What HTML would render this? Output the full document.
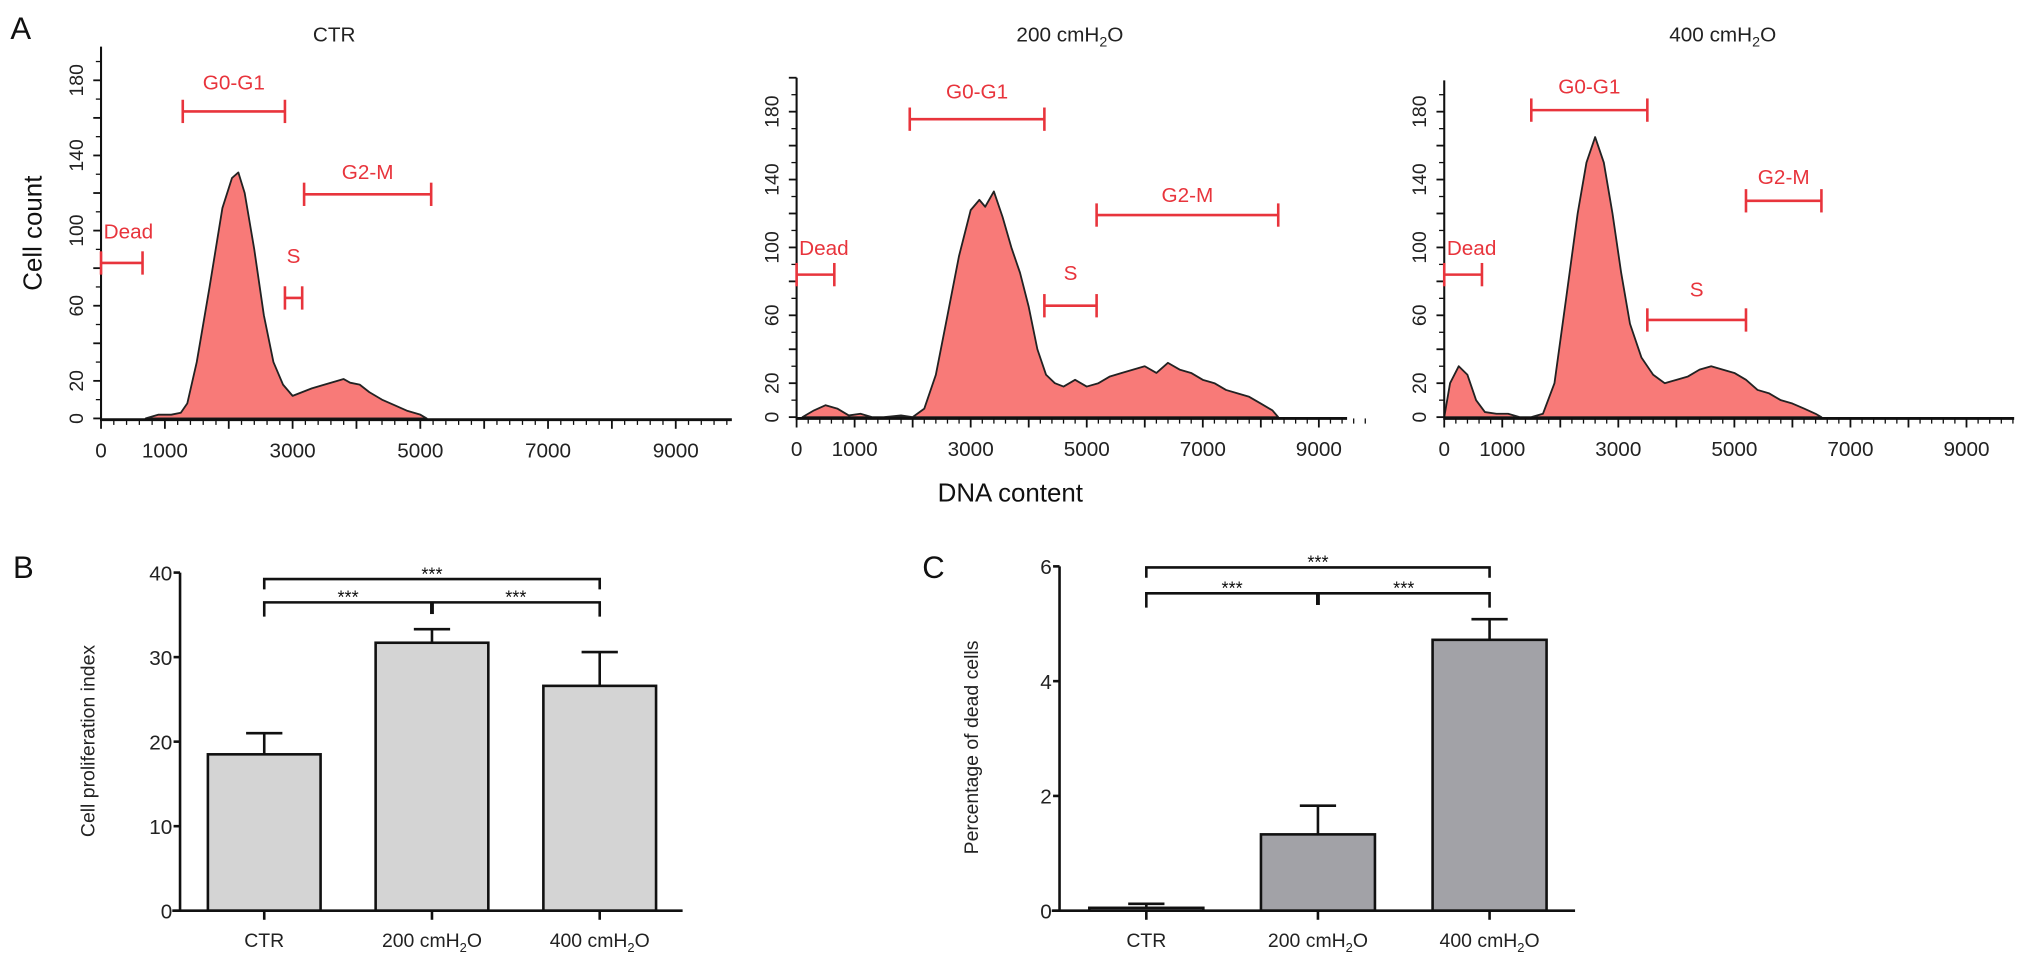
<!DOCTYPE html>
<html><head><meta charset="utf-8">
<style>
html,body{margin:0;padding:0;background:#fff;overflow:hidden;}
svg{display:block;font-family:"Liberation Sans",Arial,sans-serif;}
</style></head>
<body>
<svg id="fig" width="2031" height="969" viewBox="0 0 1568 748" preserveAspectRatio="none" xmlns="http://www.w3.org/2000/svg"></svg>
<script>
// ---- Histogram data (DNA content vs cell count) ----
const dna1 = [700,900,1100,1250,1350,1500,1700,1900,2050,2150,2250,2400,2550,2700,2850,3000,3150,3300,3500,3700,3800,3900,4050,4200,4400,4600,4800,5000,5100];
const cnt1 = [0,2,2,3,8,30,70,112,128,131,120,90,55,30,18,12,14,16,18,20,21,19,18,14,10,7,4,2,0];
const dna2 = [100,300,500,700,900,1100,1300,1500,1800,2000,2200,2400,2600,2800,3000,3150,3250,3400,3550,3700,3850,4000,4150,4300,4450,4600,4800,5000,5200,5400,5600,5800,6000,6200,6400,6600,6800,7000,7200,7400,7600,7800,8000,8200,8300];
const cnt2 = [0,4,7,5,1,2,0,0,1,0,5,25,60,95,122,128,124,133,118,100,85,65,40,25,20,18,22,18,20,24,26,28,30,26,32,28,26,22,20,16,14,12,8,4,0];
const dna3 = [0,100,250,400,550,700,900,1100,1300,1500,1700,1900,2100,2300,2450,2600,2750,2900,3050,3200,3400,3600,3800,4000,4200,4400,4600,4800,5000,5200,5400,5600,5800,6000,6200,6400,6500];
const cnt3 = [0,20,30,25,10,3,2,2,0,0,2,20,70,120,150,165,150,120,85,55,35,25,20,22,24,28,30,28,26,22,16,14,10,8,5,2,0];
// ---- Bar chart data ----
const barCats = ["CTR","200 cmH","400 cmH"];
const prolifVals = [18.5,31.7,26.6];
const prolifErr = [21.0,33.3,30.6];
const prolifTicks = [0,10,20,30,40];
const deadVals = [0.05,1.33,4.72];
const deadErr = [0.12,1.83,5.08];
const deadTicks = [0,2,4,6];

const NS="http://www.w3.org/2000/svg";
const svg=document.getElementById('fig');
function el(tag,attrs,parent){const e=document.createElementNS(NS,tag);for(const k in attrs)e.setAttribute(k,attrs[k]);(parent||svg).appendChild(e);return e;}
function txt(s,x,y,attrs,parent){const t=el('text',Object.assign({x:x,y:y},attrs||{}),parent);t.textContent=s;return t;}

const RED="#e8343c";
function histogram(opt){
  const g=el('g',{});
  
  
  const X=v=>opt.x0+v*opt.xs, Y=v=>opt.y0-v*opt.ys;
  let d="M"+X(opt.dna[0])+","+Y(0);
  for(let i=0;i<opt.dna.length;i++) d+=" L"+X(opt.dna[i]).toFixed(1)+","+Y(opt.cnt[i]).toFixed(1);
  d+=" L"+X(opt.dna[opt.dna.length-1])+","+Y(0)+" Z";
  const p=el('path',{d:d,fill:"#f87a78",stroke:"#222","stroke-width":1.4,"stroke-linejoin":"round"},g);
  
  
  const ax=el('g',{stroke:"#111","stroke-width":1.6},g);
  
  
  el('line',{x1:opt.x0,y1:opt.top,x2:opt.x0,y2:opt.y0+2},ax);
  el('line',{x1:opt.x0,y1:opt.y0+1,x2:opt.xEnd,y2:opt.y0+1,"stroke-width":2.2},ax);
  for(let v=0;v<=9800;v+=200){const big=v%1000===0;el('line',{x1:X(v),y1:opt.y0+1,x2:X(v),y2:opt.y0+(big?8:5),"stroke-width":big?1.4:1},ax);}
  for(let v=0;v<=200;v+=10){if(Y(v)<opt.top)break;const big=v%20===0;el('line',{x1:opt.x0,y1:Y(v),x2:opt.x0-(big?6:4),y2:Y(v),"stroke-width":big?1.4:1},ax);}
  [0,1000,3000,5000,7000,9000].forEach(v=>{const t=txt(String(v),X(v),opt.y0+30,{"font-size":16,"text-anchor":"middle",fill:"#222"},g);
    });
  [0,20,60,100,140,180].forEach(v=>{const t=txt(String(v),0,0,{"font-size":15,"text-anchor":"middle",fill:"#222",transform:`translate(${opt.x0-14},${Y(v)}) rotate(-90)`},g);
    });
  opt.gates.forEach(gt=>{
    const gg=el('g',{stroke:RED,"stroke-width":2},g);
    
    
    el('line',{x1:X(gt.a),y1:gt.y,x2:X(gt.b),y2:gt.y},gg);
    el('line',{x1:X(gt.a),y1:gt.y-9,x2:X(gt.a),y2:gt.y+9},gg);
    el('line',{x1:X(gt.b),y1:gt.y-9,x2:X(gt.b),y2:gt.y+9},gg);
    const t=txt(gt.n,gt.tx!==undefined?gt.tx:(X(gt.a)+X(gt.b))/2,gt.ty,{"font-size":16,fill:RED,stroke:"none","text-anchor":gt.anchor||"middle"},gg);
    
  });
  const tt=el('text',{x:opt.tx,y:32,"font-size":16,"text-anchor":"middle",fill:"#222"},g);
  
  tt.textContent=opt.title;
  if(opt.sub){const s=el('tspan',{"font-size":11,dy:4},tt);s.textContent="2";const s2=el('tspan',{dy:-4},tt);s2.textContent="O";}
}
histogram({name:'histogram-ctr',dna:dna1,cnt:cnt1,x0:78,xs:0.0493,y0:323,ys:1.45,top:36,xEnd:565,tx:258,title:"CTR",
  gates:[{n:"Dead",a:0,b:650,y:203,tx:80,ty:184,anchor:"start"},{n:"G0-G1",a:1280,b:2880,y:86,ty:69},{n:"S",a:2880,b:3150,y:230,ty:203},{n:"G2-M",a:3180,b:5170,y:150,ty:138}]});
histogram({name:'histogram-200',dna:dna2,cnt:cnt2,x0:615,xs:0.0448,y0:322,ys:1.31,top:60,xEnd:1040,tx:826,title:"200 cmH",sub:true,
  gates:[{n:"Dead",a:0,b:650,y:212,tx:617,ty:197,anchor:"start"},{n:"G0-G1",a:1950,b:4270,y:92,ty:76},{n:"S",a:4270,b:5170,y:236,ty:216},{n:"G2-M",a:5170,b:8300,y:166,ty:156}]});
histogram({name:'histogram-400',dna:dna3,cnt:cnt3,x0:1115,xs:0.0448,y0:322,ys:1.31,top:62,xEnd:1555,tx:1330,title:"400 cmH",sub:true,
  gates:[{n:"Dead",a:0,b:650,y:212,tx:1117,ty:197,anchor:"start"},{n:"G0-G1",a:1500,b:3500,y:85,ty:72},{n:"S",a:3500,b:5200,y:247,ty:229},{n:"G2-M",a:5200,b:6500,y:155,ty:142}]});

function label(s,x,y,size,name,extra){const t=txt(s,x,y,Object.assign({"font-size":size,fill:"#111"},extra||{}));return t;}
label("A",8,30,24,'panel-a-label');
label("B",10,446,24,'panel-b-label');
label("C",712,446,24,'panel-c-label');
label("DNA content",780,387,20,'x-axis-title',{"text-anchor":"middle"});
label("Cell count",0,0,20,'y-axis-title',{"text-anchor":"middle",transform:"translate(32,180) rotate(-90)"});

function barChart(opt){
  const g=el('g',{});
  
  
  const Y=v=>opt.y0-v*opt.ys;
  const cx=i=>opt.first+i*opt.step;
  for(let i=0;i<opt.vals.length;i++){
    const r=el('rect',{x:cx(i)-opt.bw/2,y:Y(opt.vals[i]),width:opt.bw,height:opt.y0-Y(opt.vals[i]),fill:opt.fill,stroke:"#111","stroke-width":2},g);
    
    const e=el('g',{stroke:"#111","stroke-width":2},g);
    
    el('line',{x1:cx(i),y1:Y(opt.vals[i]),x2:cx(i),y2:Y(opt.err[i])},e);
    el('line',{x1:cx(i)-14,y1:Y(opt.err[i]),x2:cx(i)+14,y2:Y(opt.err[i])},e);
    const t=el('text',{x:cx(i),y:opt.y0+28,"font-size":15,"text-anchor":"middle",fill:"#222"},g);
    
    t.textContent=barCats[i];
    if(i>0){const s=el('tspan',{"font-size":10,dy:4},t);s.textContent="2";const s2=el('tspan',{dy:-4},t);s2.textContent="O";}
  }
  const ax=el('g',{stroke:"#111","stroke-width":2},g);
  
  el('line',{x1:opt.ax,y1:Y(opt.ticks[opt.ticks.length-1]),x2:opt.ax,y2:opt.y0},ax);
  el('line',{x1:opt.ax-6,y1:opt.y0,x2:opt.xEnd,y2:opt.y0},ax);
  opt.ticks.forEach(v=>{el('line',{x1:opt.ax-5,y1:Y(v),x2:opt.ax,y2:Y(v)},ax);
    const t=txt(String(v),opt.ax-6,Y(v)+6,{"font-size":16,"text-anchor":"end",fill:"#222",stroke:"none"},g);
    });
  for(let i=0;i<opt.vals.length;i++) el('line',{x1:cx(i),y1:opt.y0,x2:cx(i),y2:opt.y0+7},ax);
  const yt=txt(opt.ytitle,0,0,{"font-size":15,"text-anchor":"middle",fill:"#222",transform:`translate(${opt.ytx},${opt.yty}) rotate(-90)`},g);
  
  const b=el('g',{stroke:"#111","stroke-width":2,fill:"none"},g);
  
  const a=cx(0),c=cx(2),m=cx(1);
  el('path',{d:`M${a},${opt.b1+8} V${opt.b1} H${c} V${opt.b1+8}`},b);
  el('path',{d:`M${a},${opt.b2+11} V${opt.b2} H${c} V${opt.b2+11}`},b);
  el('line',{x1:m,y1:opt.b2,x2:m,y2:opt.b2+9,"stroke-width":3},b);
  [[m,opt.b1-4],[(a+m)/2,opt.b2-4],[(m+c)/2,opt.b2-4]].forEach(p=>{const t=txt("***",p[0],p[1]+5,{"font-size":14,"text-anchor":"middle",fill:"#111",stroke:"none"},g);
    });
}
barChart({name:'proliferation-chart',vals:prolifVals,err:prolifErr,ticks:prolifTicks,y0:703,ys:6.525,first:204,step:129.5,bw:87,fill:"#d4d4d4",ax:139,xEnd:527,ytitle:"Cell proliferation index",ytx:73,yty:572,b1:447,b2:465});
barChart({name:'dead-cells-chart',vals:deadVals,err:deadErr,ticks:deadTicks,y0:703,ys:44.3,first:885,step:132.5,bw:88,fill:"#a2a2a7",ax:818,xEnd:1216,ytitle:"Percentage of dead cells",ytx:755,yty:577,b1:438,b2:458});
</script>
</body></html>
